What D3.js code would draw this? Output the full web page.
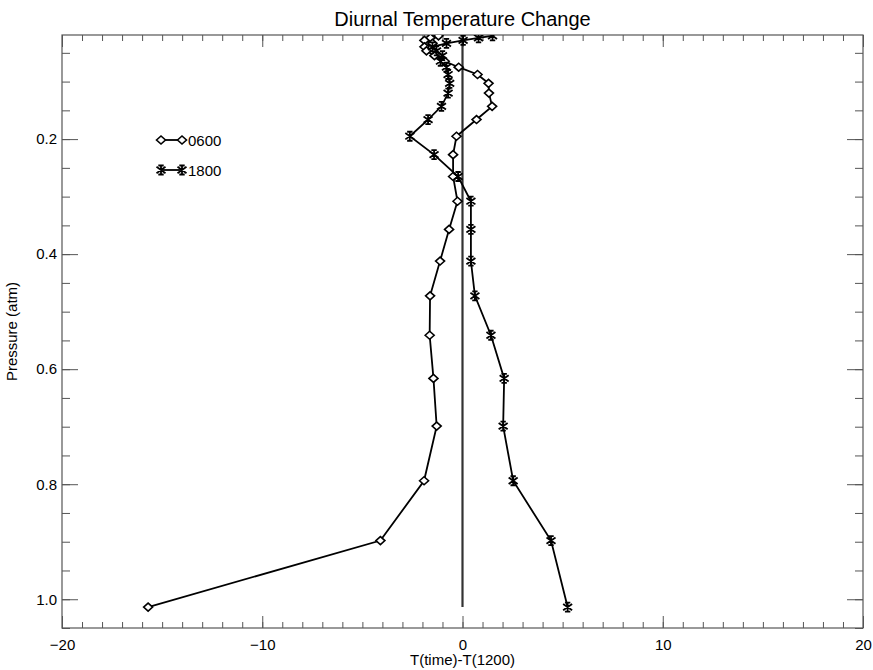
<!DOCTYPE html>
<html>
<head>
<meta charset="utf-8">
<script src="https://cdn.jsdelivr.net/npm/d3@7"></script>
<style>
  body { margin: 0; background: #fff; }
  text { font-family: "Liberation Sans", Arial, Helvetica, sans-serif; fill: #000; }
</style>
</head>
<body>
<div id="chart"></div>
<script>
// pressure levels (atm) and temperature differences T(time)-T(1200)
let pressure = [0.0204, 0.024, 0.0284, 0.0335, 0.0395, 0.0466, 0.055, 0.0646, 0.075, 0.0877,
    0.103, 0.12, 0.143, 0.166, 0.195, 0.227, 0.265, 0.308, 0.357, 0.412,
    0.4725, 0.541, 0.616, 0.699, 0.794, 0.898, 1.0136];
let t0600 = [-1.2, -1.6, -1.9, -1.5, -1.9, -1.8, -1.4, -0.89, -0.19, 0.75,
    1.3, 1.32, 1.48, 0.7, -0.3, -0.47, -0.47, -0.25, -0.67, -1.12,
    -1.62, -1.64, -1.45, -1.29, -1.92, -4.1, -15.7];
let t1800 = [1.5, 0.8, 0.03, -0.8, -1.5, -1.3, -1.0, -1.1, -0.8, -0.72,
    -0.64, -0.72, -1.05, -1.72, -2.63, -1.42, -0.22, 0.42, 0.42, 0.42,
    0.62, 1.42, 2.08, 2.03, 2.53, 4.42, 5.25];
let seriesNames = ["0600", "1800"];
let xTicks = [-20, -10, 0, 10, 20];
let yTicks = [0.2, 0.4, 0.6, 0.8, 1.0];

let width = 873, height = 670;
let plotLeft = 62, plotRight = 863, plotTop = 35, plotBottom = 628;

let x = d3.scaleLinear().domain([-20, 20]).range([plotLeft, plotRight]);
let y = d3.scaleLinear().domain([0.019, 1.05]).range([plotTop, plotBottom]);

let svg = d3.select("#chart").append("svg").attr("width", width).attr("height", height);

svg.append("defs").append("clipPath").attr("id", "plotClip")
    .append("rect").attr("x", plotLeft).attr("y", plotTop)
    .attr("width", plotRight - plotLeft).attr("height", plotBottom - plotTop);

let axisColor = "#555";

//Axes: ticks pointing inward on all four sides
let xMinor = d3.range(-20, 21, 1);
let yMinor = d3.range(0.05, 1.051, 0.05);

svg.append("g").attr("transform", `translate(0, ${plotBottom})`)
    .call(d3.axisBottom(x).tickValues(xMinor).tickSize(-6).tickFormat(""));
svg.append("g").attr("transform", `translate(0, ${plotBottom})`)
    .call(d3.axisBottom(x).tickValues(xTicks).tickSize(-12).tickPadding(11).tickFormat(d3.format("d")));
svg.append("g").attr("transform", `translate(0, ${plotTop})`)
    .call(d3.axisTop(x).tickValues(xMinor).tickSize(-6).tickFormat(""));
svg.append("g").attr("transform", `translate(0, ${plotTop})`)
    .call(d3.axisTop(x).tickValues(xTicks).tickSize(-12).tickFormat(""));
svg.append("g").attr("transform", `translate(${plotLeft}, 0)`)
    .call(d3.axisLeft(y).tickValues(yMinor).tickSize(-8).tickFormat(""));
svg.append("g").attr("transform", `translate(${plotLeft}, 0)`)
    .call(d3.axisLeft(y).tickValues(yTicks).tickSize(-16).tickPadding(5).tickFormat(d3.format(".1f")));
svg.append("g").attr("transform", `translate(${plotRight}, 0)`)
    .call(d3.axisRight(y).tickValues(yMinor).tickSize(-8).tickFormat(""));
svg.append("g").attr("transform", `translate(${plotRight}, 0)`)
    .call(d3.axisRight(y).tickValues(yTicks).tickSize(-16).tickFormat(""));

svg.selectAll(".domain").remove();
svg.selectAll(".tick line").attr("stroke", axisColor).attr("stroke-width", 1);
svg.selectAll(".tick text").attr("font-size", 15).attr("fill", "#000")
    .attr("font-family", "'Liberation Sans', Arial, sans-serif");

//Frame
svg.append("rect").attr("x", plotLeft).attr("y", plotTop)
    .attr("width", plotRight - plotLeft).attr("height", plotBottom - plotTop)
    .attr("fill", "none").attr("stroke", axisColor).attr("stroke-width", 1.2);

//Titles
svg.append("text").attr("x", (plotLeft + plotRight) / 2).attr("y", 26).attr("text-anchor", "middle")
    .attr("font-size", 20).text("Diurnal Temperature Change");
svg.append("text").attr("x", (plotLeft + plotRight) / 2).attr("y", 665).attr("text-anchor", "middle")
    .attr("font-size", 15).text("T(time)-T(1200)");
svg.append("text").attr("transform", `translate(17, ${(plotTop + plotBottom) / 2}) rotate(-90)`)
    .attr("text-anchor", "middle").attr("font-size", 15).text("Pressure (atm)");

let plotGroup = svg.append("g").attr("clip-path", "url(#plotClip)");

//Zero line
plotGroup.append("line").attr("x1", x(0)).attr("x2", x(0))
    .attr("y1", y(0.019)).attr("y2", y(d3.max(pressure)))
    .attr("stroke", "#333").attr("stroke-width", 2.2);

let line = d3.line().x(d => x(d[0])).y(d => y(d[1]));

function diamond(g, cx, cy) {
    g.append("path")
        .attr("d", `M${cx - 4.5},${cy} L${cx},${cy - 4} L${cx + 4.5},${cy} L${cx},${cy + 4} Z`)
        .attr("fill", "#fff").attr("stroke", "#000").attr("stroke-width", 1.6);
}

function asterisk(g, cx, cy) {
    let r = 4.5;
    g.append("path")
        .attr("d", `M${cx},${cy - r} L${cx},${cy + r} M${cx - r},${cy - r * 0.7} L${cx + r},${cy + r * 0.7} ` +
            `M${cx - r},${cy + r * 0.7} L${cx + r},${cy - r * 0.7} M${cx - r * 0.6},${cy - r} L${cx + r * 0.6},${cy - r} ` +
            `M${cx - r * 0.6},${cy + r} L${cx + r * 0.6},${cy + r}`)
        .attr("stroke", "#000").attr("stroke-width", 1.8).attr("fill", "none");
}

let series = [
    {name: seriesNames[0], values: t0600, marker: diamond},
    {name: seriesNames[1], values: t1800, marker: asterisk}
];

series.forEach(s => {
    let pts = s.values.map((v, i) => [v, pressure[i]]);
    plotGroup.append("path").datum(pts).attr("d", line)
        .attr("fill", "none").attr("stroke", "#000").attr("stroke-width", 1.8);
    let mg = plotGroup.append("g");
    pts.forEach(p => s.marker(mg, x(p[0]), y(p[1])));
});

//Legend
series.forEach((s, i) => {
    let ly = 140 + i * 30;
    let lg = svg.append("g");
    lg.append("line").attr("x1", 161).attr("x2", 182).attr("y1", ly).attr("y2", ly)
        .attr("stroke", "#000").attr("stroke-width", 1.8);
    s.marker(lg, 161, ly);
    s.marker(lg, 182, ly);
    lg.append("text").attr("x", 188).attr("y", ly + 5.5).attr("font-size", 15).text(s.name);
});
</script>
</body>
</html>
